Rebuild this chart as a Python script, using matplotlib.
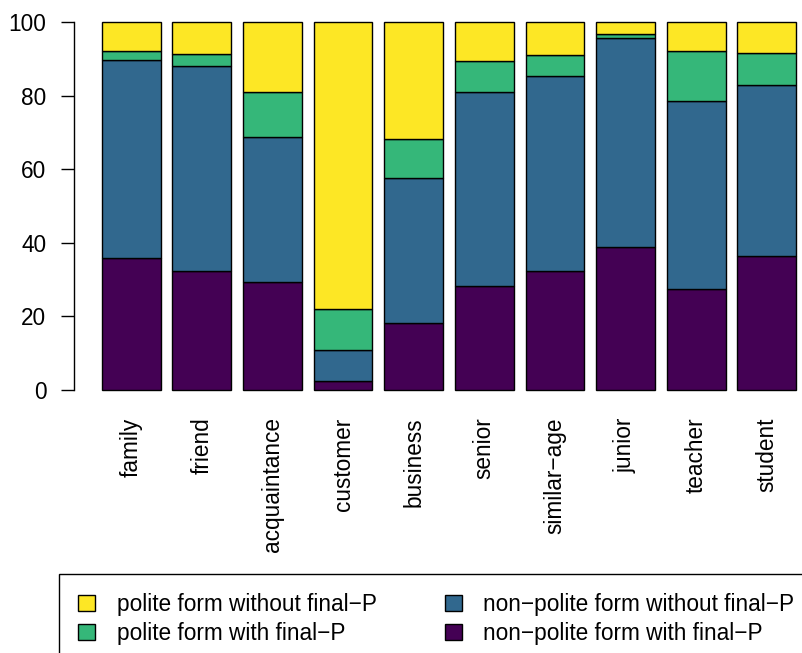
import matplotlib.pyplot as plt
import numpy as np
from matplotlib.patches import Patch

plt.rcParams.update(
    {
        "font.family": ["Liberation Sans", "DejaVu Sans"],
        "font.size": 16.3,
        "axes.linewidth": 1.0,
    }
)

# interlocutor categories, left to right
CATEGORIES = [
    "family", "friend", "acquaintance", "customer", "business",
    "senior", "similar\u2212age", "junior", "teacher", "student",
]

# percentage of each form per category (stacked bottom to top)
NONPOLITE_WITH_P = [35.8, 32.4, 29.3, 2.5, 18.1, 28.3, 32.2, 38.9, 27.4, 36.5]
NONPOLITE_WITHOUT_P = [53.9, 55.6, 39.4, 8.5, 39.6, 52.8, 53.0, 56.8, 51.0, 46.3]
POLITE_WITH_P = [2.5, 3.4, 12.3, 10.9, 10.4, 8.3, 5.8, 1.0, 13.6, 8.9]
POLITE_WITHOUT_P = [7.8, 8.6, 19.0, 78.1, 31.9, 10.6, 9.0, 3.3, 8.0, 8.3]

SERIES = [
    ("non\u2212polite form with final\u2212P", NONPOLITE_WITH_P, "#440154"),
    ("non\u2212polite form without final\u2212P", NONPOLITE_WITHOUT_P, "#31688E"),
    ("polite form with final\u2212P", POLITE_WITH_P, "#35B779"),
    ("polite form without final\u2212P", POLITE_WITHOUT_P, "#FDE725"),
]

fig = plt.figure(figsize=(8.02, 6.53), dpi=100)
ax = fig.add_axes([74 / 802, 1 - 404.7 / 653, 750 / 802, 397.4 / 653])

x = 0.7 + 1.2 * np.arange(len(CATEGORIES))
bottom = np.zeros(len(CATEGORIES))
for label, vals, color in SERIES:
    vals = np.array(vals)
    ax.bar(x, vals, width=1.0, bottom=bottom, color=color,
           edgecolor="black", linewidth=1.0, label=label)
    bottom += vals

ax.set_xlim(0.2 - 0.472, 12.0 + 0.472)
ax.set_ylim(-4, 104)
ax.set_yticks([0, 20, 40, 60, 80, 100])
ax.set_xticks(x)
ax.set_xticklabels(CATEGORIES, rotation=90, va="top", ha="center")
ax.tick_params(axis="x", length=0, pad=9.2)
ax.tick_params(axis="y", direction="out", length=9.4, width=1.0, pad=10.5)

for side in ("top", "right", "bottom"):
    ax.spines[side].set_visible(False)
ax.spines["left"].set_bounds(0, 100)
ax.patch.set_visible(False)

# legend: polite forms in the first column, non-polite in the second
order = [3, 2, 1, 0]
handles = [Patch(facecolor=SERIES[i][2], edgecolor="black", linewidth=1.0) for i in order]
labels = [SERIES[i][0] for i in order]
leg = fig.legend(
    handles,
    labels,
    loc="upper left",
    bbox_to_anchor=(59 / 802, 1 - 574 / 653),
    borderaxespad=0,
    ncol=2,
    frameon=True,
    fancybox=False,
    edgecolor="black",
    framealpha=1,
    handlelength=0.75,
    handleheight=0.7,
    handletextpad=0.95,
    columnspacing=3.0,
    labelspacing=0.24,
    borderpad=0.85,
)
leg.get_frame().set_linewidth(1.0)

fig.savefig("out.png", dpi=100)
